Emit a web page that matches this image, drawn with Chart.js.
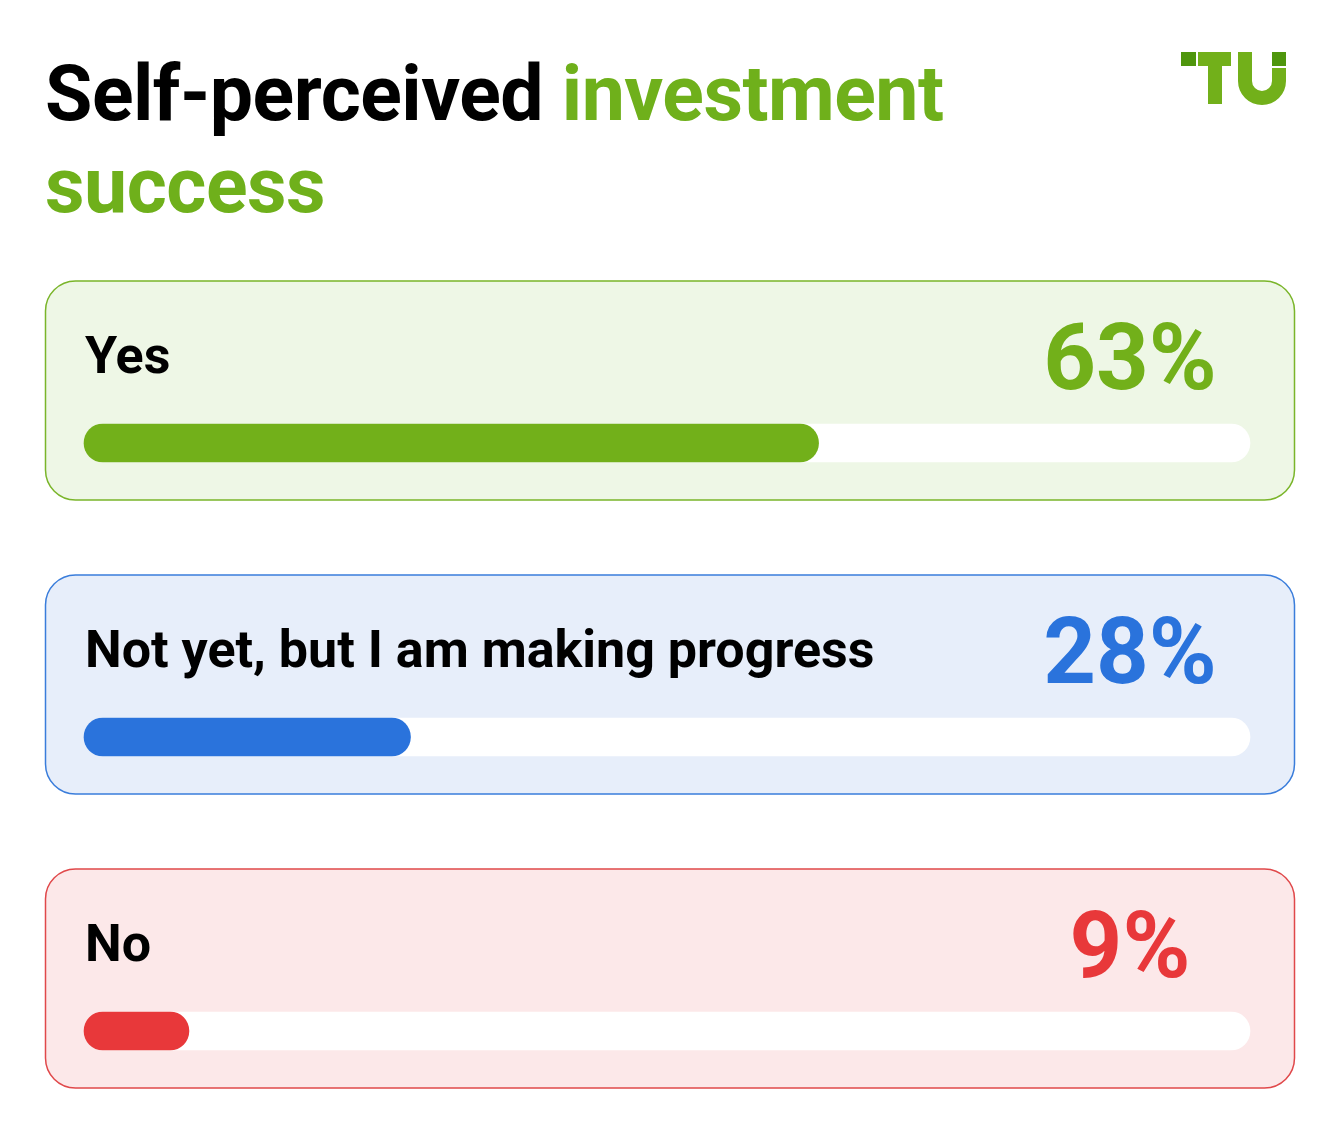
<!DOCTYPE html>
<html>
<head>
<meta charset="utf-8">
<title>Self-perceived investment success</title>
<script src="https://cdn.jsdelivr.net/npm/chart.js"></script>
<style>
  body { margin: 0; background: #fff; width: 1340px; height: 1140px; overflow: hidden; position: relative; font-family: Roboto, sans-serif; }
  #title { position: absolute; left: 45px; top: 48px; font-weight: 700; font-size: 77px; line-height: 92px; letter-spacing: -0.5px; color: #000; margin: 0; }
  #title span { color: #6fb01b; }
  #logo { position: absolute; left: 1181px; top: 51px; }
  #chart { position: absolute; left: 0; top: 0; }
</style>
</head>
<body>
<canvas id="chart" width="1340" height="1140"></canvas>
<h1 id="title">Self-perceived <span>investment<br>success</span></h1>
<svg id="logo" width="108" height="56" viewBox="0 0 108 56">
  <rect x="0" y="1" width="15" height="14" fill="#4f960d"/>
  <rect x="17" y="1" width="33" height="14" fill="#72b01a"/>
  <rect x="27" y="15" width="14" height="38" fill="#72b01a"/>
  <path d="M57 1 H71 V30 A10 10 0 0 0 91 30 V17 H105 V30 A24 24 0 0 1 57 30 Z" fill="#72b01a"/>
  <rect x="91" y="1" width="14" height="14" fill="#4f960d"/>
</svg>

<script>
// survey answers and their share of respondents (%)
const categories = ["Yes", "Not yet, but I am making progress", "No"];
const shares = [63, 28, 9];
const trackValues = [100, 100, 100];

const barColors = ["#72b01a", "#2a73dc", "#e8383a"];
const cardFills = ["#eef7e6", "#e7eefa", "#fce8e9"];
const cardBorders = ["#7ab52a", "#3a7ddb", "#e0484a"];

// card behind each bar, label and big percentage on top
const cardPlugin = {
  id: "cards",
  beforeDatasetsDraw(chart) {
    const ctx = chart.ctx;
    const yScale = chart.scales.y;
    ctx.save();
    categories.forEach((cat, i) => {
      const cy = yScale.getPixelForValue(i);
      ctx.beginPath();
      ctx.roundRect(45.5, cy - 162, 1249, 219, 30);
      ctx.fillStyle = cardFills[i];
      ctx.fill();
      ctx.lineWidth = 1.5;
      ctx.strokeStyle = cardBorders[i];
      ctx.stroke();
    });
    ctx.restore();
  },
  afterDatasetsDraw(chart) {
    const ctx = chart.ctx;
    const yScale = chart.scales.y;
    const area = chart.chartArea;
    ctx.save();
    categories.forEach((cat, i) => {
      const cy = yScale.getPixelForValue(i);
      ctx.fillStyle = "#000";
      ctx.textAlign = "left";
      ctx.textBaseline = "alphabetic";
      ctx.font = "700 52px Roboto";
      ctx.fillText(cat, area.left + 1, cy - 70);

      ctx.fillStyle = barColors[i];
      ctx.textAlign = "center";
      ctx.font = "700 92px Roboto";
      ctx.fillText(shares[i] + "%", area.right - 120, cy - 54);
    });
    ctx.restore();
  }
};

new Chart(document.getElementById("chart"), {
  type: "bar",
  data: {
    labels: categories,
    datasets: [
      {
        data: shares,
        backgroundColor: barColors,
        barThickness: 38,
        borderRadius: 19,
        borderSkipped: false,
        grouped: false,
        clip: false
      },
      {
        data: trackValues,
        backgroundColor: "#ffffff",
        barThickness: 38,
        borderRadius: 19,
        borderSkipped: false,
        grouped: false,
        clip: false
      }
    ]
  },
  options: {
    indexAxis: "y",
    responsive: false,
    animation: false,
    devicePixelRatio: 1,
    layout: { padding: { left: 84, right: 90, top: 443, bottom: 109 } },
    scales: {
      x: { min: 0, max: 100, display: false },
      y: { type: "category", offset: false, display: false }
    },
    plugins: {
      legend: { display: false },
      tooltip: { enabled: false }
    }
  },
  plugins: [cardPlugin]
});
</script>
</body>
</html>
